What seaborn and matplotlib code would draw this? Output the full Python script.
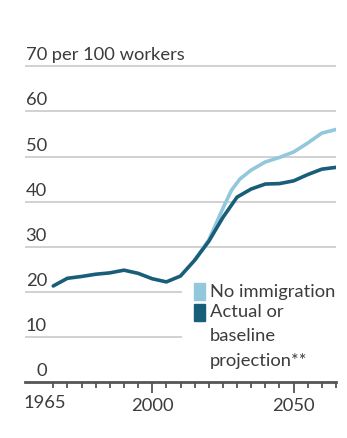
import matplotlib
matplotlib.use("Agg")
import matplotlib.pyplot as plt
import matplotlib.transforms as mtransforms
from matplotlib.patches import Rectangle
import seaborn as sns
import pandas as pd

# ---- data ----
years_actual = [1965, 1970, 1975, 1980, 1985, 1990, 1995, 2000, 2005, 2010,
                2015, 2020, 2025, 2030, 2035, 2040, 2045, 2050, 2055, 2060, 2065]
actual = [21.3, 23.0, 23.4, 23.9, 24.2, 24.8, 24.1, 22.9, 22.2, 23.5,
          27.0, 31.2, 36.5, 41.0, 42.8, 43.9, 44.0, 44.6, 46.0, 47.2, 47.6]
years_noimm = [2015, 2020, 2025, 2028, 2031, 2035, 2040, 2045, 2050, 2055, 2060, 2065]
noimm = [27.0, 31.5, 38.5, 42.5, 45.0, 47.0, 48.8, 49.8, 51.0, 53.0, 55.2, 56.0]
series_names = ["No immigration", "Actual or\nbaseline\nprojection**"]
ytick_vals = [0, 10, 20, 30, 40, 50, 60, 70]
ytick_labels = ["0", "10", "20", "30", "40", "50", "60", "70"]
xtick_major = [2000, 2050]
xtick_labels = ["1965", "2000", "2050"]

LIGHT = "#93c8dc"
DARK = "#185e79"
TEXT = "#3c3c3c"
GRID = "#c9c9c9"
FS = 13.2

sns.set_style("white")
plt.rcParams["font.family"] = ["Lato", "DejaVu Sans"]

df = pd.concat([
    pd.DataFrame({"year": years_noimm, "value": noimm, "series": series_names[0]}),
    pd.DataFrame({"year": years_actual, "value": actual, "series": series_names[1]}),
])

W, H = 347, 439
fig = plt.figure(figsize=(W / 100, H / 100), dpi=100)
ax = fig.add_axes([25 / W, (H - 383) / H, 311 / W, 317 / H])
ax.set_xlim(1955, 2065)
ax.set_ylim(0, 70.3)

# gridlines
for v in ytick_vals[1:]:
    xmax = 2010.5 if v in (10, 20) else 2065
    ax.hlines(v, 1955, xmax, color=GRID, lw=1.2, zorder=1)

sns.lineplot(data=df, x="year", y="value", hue="series",
             palette={series_names[0]: LIGHT, series_names[1]: DARK},
             hue_order=series_names, lw=2.6, legend=False, ax=ax, zorder=3)
for line in ax.get_lines():
    if line.get_color() == DARK:
        line.set_zorder(4)

for s in ["top", "right", "left"]:
    ax.spines[s].set_visible(False)
ax.spines["bottom"].set_color("#555555")
ax.spines["bottom"].set_linewidth(2)

ax.set_yticks([])
ax.set_xticks(xtick_major)
ax.set_xticks(list(range(1965, 2066, 5)), minor=True)
ax.tick_params(axis="x", which="both", bottom=True)
ax.tick_params(axis="x", which="major", length=8, width=1.3, color="#555555",
               labelsize=FS, labelcolor=TEXT, pad=3, direction="out")
ax.tick_params(axis="x", which="minor", length=4, width=1.3, color="#555555",
               direction="out")
ax.set_xticklabels(xtick_labels[1:])
ax.set_xlabel("")
ax.set_ylabel("")
ax.text(-0.005, -0.038, xtick_labels[0], transform=ax.transAxes, ha="left", va="top",
        fontsize=FS, color=TEXT)

# y labels above gridlines, right-aligned
trans = mtransforms.blended_transform_factory(ax.transAxes, ax.transData)
off = mtransforms.offset_copy(trans, fig=fig, x=0, y=4, units="dots")
for v, lab in zip(ytick_vals, ytick_labels):
    ax.text(22 / 311, v, lab, transform=off, ha="right", va="bottom",
            fontsize=FS, color=TEXT)
ax.text(22 / 311, 70, " per 100 workers", transform=off, ha="left", va="bottom",
        fontsize=FS, color=TEXT)

# legend
def fx(px):
    return px / W
def fy(py):
    return 1 - py / H

fig.patches.append(Rectangle((fx(194), fy(301)), 11 / W, 17 / H,
                             transform=fig.transFigure, color=LIGHT))
fig.patches.append(Rectangle((fx(194), fy(322)), 11 / W, 17 / H,
                             transform=fig.transFigure, color=DARK))
fig.text(fx(210), fy(292.5), series_names[0], ha="left", va="center",
         fontsize=FS, color=TEXT)
fig.text(fx(210), fy(304), series_names[1], ha="left", va="top",
         fontsize=FS, color=TEXT, linespacing=1.65)

fig.savefig("out.png", dpi=100)
